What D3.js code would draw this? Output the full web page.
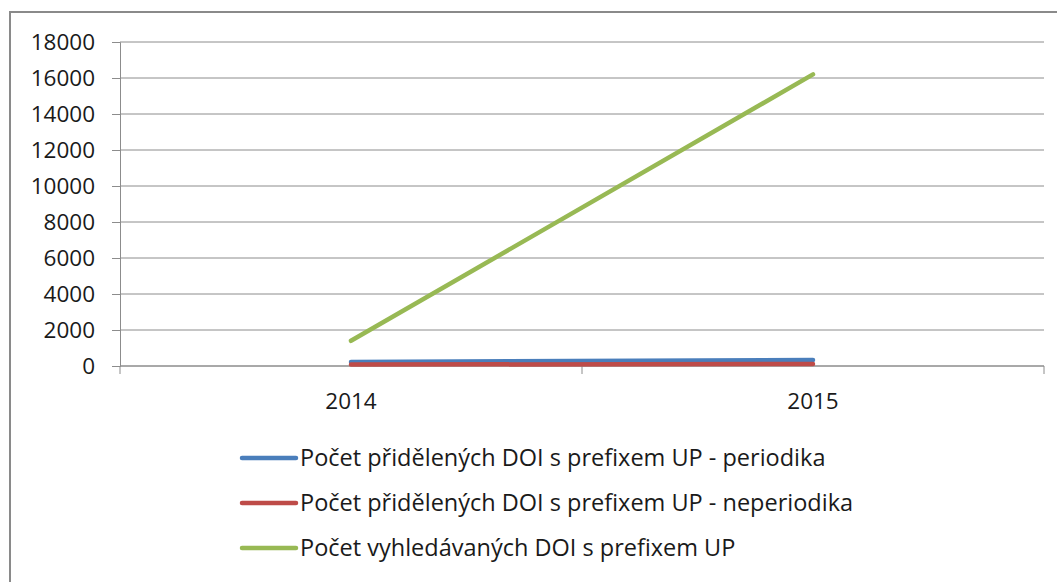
<!DOCTYPE html>
<html>
<head>
<meta charset="utf-8">
<script src="https://cdn.jsdelivr.net/npm/d3@7"></script>
<style>
    html, body { margin: 0; padding: 0; background: #fff; }
    svg { display: block; font-family: "Open Sans", sans-serif; }
</style>
</head>
<body>
<div id="chart"></div>
<script>
// chart data
const years = ['2014', '2015'];
const periodika = [220, 330];
const neperiodika = [80, 110];
const vyhledavane = [1400, 16200];
const seriesNames = [
    'Počet přidělených DOI s prefixem UP - periodika',
    'Počet přidělených DOI s prefixem UP - neperiodika',
    'Počet vyhledávaných DOI s prefixem UP'
];
const seriesColors = ['#4a7ebb', '#be4b48', '#98b954'];
const yTicks = [0, 2000, 4000, 6000, 8000, 10000, 12000, 14000, 16000, 18000];

const width = 1057, height = 582;
const plot = { left: 120, right: 1044, top: 42, bottom: 366 };
const gridColor = '#8c8c8c';
const fontSize = '22.5px';

const svg = d3.select('#chart').append('svg')
    .attr('width', width)
    .attr('height', height);

// outer chart frame (runs off the right and bottom edge)
svg.append('rect')
    .attr('x', 10).attr('y', 12)
    .attr('width', 1100).attr('height', 640)
    .attr('fill', '#fff')
    .attr('stroke', '#8a8a8a')
    .attr('stroke-width', 2);

const x = d3.scaleBand()
    .domain(years)
    .range([plot.left, plot.right]);

const y = d3.scaleLinear()
    .domain([0, 18000])
    .range([plot.bottom, plot.top]);

// horizontal gridlines
svg.append('g')
    .selectAll('line')
    .data(yTicks)
    .join('line')
    .attr('x1', plot.left).attr('x2', plot.right)
    .attr('y1', d => y(d)).attr('y2', d => y(d))
    .attr('stroke', gridColor)
    .attr('stroke-width', 1);

// y axis
const yAxis = svg.append('g')
    .attr('transform', `translate(${plot.left},0)`)
    .call(d3.axisLeft(y).tickValues(yTicks).tickSize(8).tickPadding(17).tickFormat(d3.format('d')));
yAxis.select('.domain').attr('stroke', gridColor);
yAxis.selectAll('.tick line').attr('stroke', gridColor);
yAxis.selectAll('.tick text')
    .attr('fill', '#1a1a1a')
    .style('font-size', fontSize)
    .style('font-family', '"Open Sans", sans-serif');

// x axis: ticks between categories
const xAxis = svg.append('g')
    .attr('transform', `translate(0,${plot.bottom})`)
    .call(d3.axisBottom(x).tickSize(0).tickPadding(27));
xAxis.select('.domain').remove();
xAxis.selectAll('.tick text')
    .attr('fill', '#1a1a1a')
    .style('font-size', fontSize)
    .style('font-family', '"Open Sans", sans-serif');

const bounds = [x(years[0]), ...years.map(d => x(d) + x.bandwidth())];
svg.append('g')
    .selectAll('line')
    .data(bounds)
    .join('line')
    .attr('x1', d => d).attr('x2', d => d)
    .attr('y1', plot.bottom).attr('y2', plot.bottom + 8)
    .attr('stroke', gridColor);
svg.append('line')
    .attr('x1', plot.left).attr('x2', plot.right)
    .attr('y1', plot.bottom).attr('y2', plot.bottom)
    .attr('stroke', gridColor);

// series lines
const allSeries = [periodika, neperiodika, vyhledavane];
const line = d3.line()
    .x((d, i) => x(years[i]) + x.bandwidth() / 2)
    .y(d => y(d));

svg.append('g')
    .selectAll('path')
    .data(allSeries)
    .join('path')
    .attr('d', d => line(d))
    .attr('fill', 'none')
    .attr('stroke', (d, i) => seriesColors[i])
    .attr('stroke-width', 4.5)
    .attr('stroke-linecap', 'round');

// legend
const legend = svg.append('g')
    .selectAll('g')
    .data(seriesNames)
    .join('g')
    .attr('transform', (d, i) => `translate(242,${458 + i * 45})`);

legend.append('line')
    .attr('x1', 0).attr('x2', 54)
    .attr('stroke', (d, i) => seriesColors[i])
    .attr('stroke-width', 4.5)
    .attr('stroke-linecap', 'round');

legend.append('text')
    .attr('x', 58)
    .attr('dy', '0.35em')
    .style('font-size', '23.5px')
    .attr('fill', '#1a1a1a')
    .text(d => d);
</script>
</body>
</html>
